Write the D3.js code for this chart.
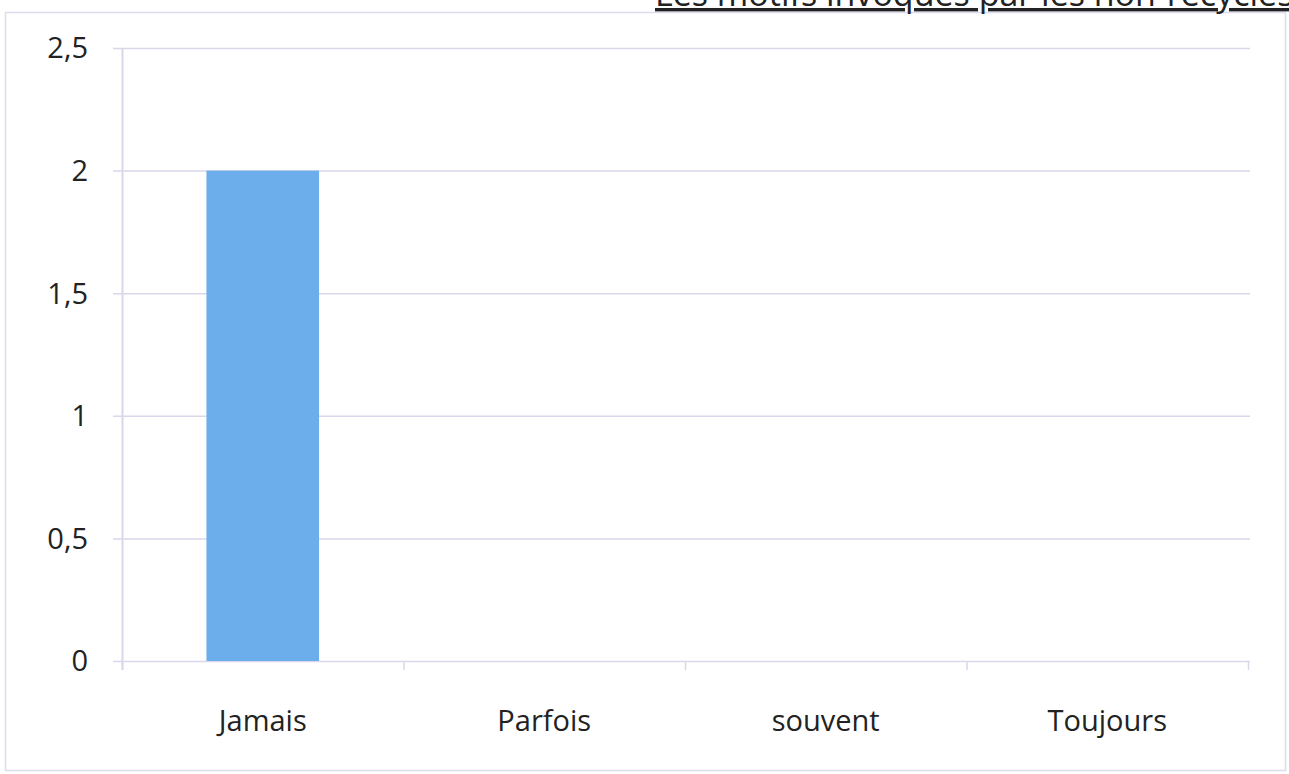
<!DOCTYPE html>
<html><head><meta charset="utf-8">
<script src="https://cdn.jsdelivr.net/npm/d3@7"></script>
<style>html,body{margin:0;padding:0;background:#fff;overflow:hidden}</style>
</head><body>
<svg id="c" width="1289" height="774"></svg>
<script>
const title = "Les motifs invoqués par les non-recyclés";
const categories = ["Jamais", "Parfois", "souvent", "Toujours"];
const values = [2, 0, 0, 0];
const yTicks = [0, 0.5, 1, 1.5, 2, 2.5];
const yTickLabels = ["0", "0,5", "1", "1,5", "2", "2,5"];

const svg = d3.select("#c");
const font = "'Open Sans', sans-serif";
const gridCol = "#d8d8ea";

// outer frame
svg.append("rect").attr("x", 5.5).attr("y", 12.5).attr("width", 1280).attr("height", 758)
  .attr("fill", "none").attr("stroke", "#dcdcee").attr("stroke-width", 1.5);

// title (cut off at top, as in the reference)
svg.append("text").attr("x", 655).attr("y", 6)
  .attr("font-family", font).attr("font-size", 34).attr("fill", "#222")
  .attr("text-decoration", "underline")
  .text(title);

const x = d3.scaleBand().domain(categories).range([122, 1248]).paddingInner(0.6).paddingOuter(0.3);
const xb = d3.scaleBand().domain(categories).range([122, 1248]);
const y = d3.scaleLinear().domain([0, 2.5]).range([661, 48]);

// gridlines
svg.append("g").selectAll("line").data(yTicks).join("line")
  .attr("x1", 113).attr("x2", 1250)
  .attr("y1", d => y(d) + 0.5).attr("y2", d => y(d) + 0.5)
  .attr("stroke", gridCol).attr("stroke-width", 1.5);

// y axis line
svg.append("line").attr("x1", 122.5).attr("x2", 122.5).attr("y1", y(2.5)).attr("y2", 670)
  .attr("stroke", gridCol).attr("stroke-width", 2);

// x ticks at band boundaries
const bounds = categories.map(c => xb(c)).concat([xb.range()[1]]);
svg.append("g").selectAll("line").data(bounds).join("line")
  .attr("x1", d => d + 0.5).attr("x2", d => d + 0.5)
  .attr("y1", y(0)).attr("y2", 670)
  .attr("stroke", gridCol).attr("stroke-width", 1.5);

// bars
svg.append("g").selectAll("rect").data(values).join("rect")
  .attr("x", (d, i) => x(categories[i]))
  .attr("width", x.bandwidth())
  .attr("y", d => y(d))
  .attr("height", d => y(0) - y(d))
  .attr("fill", "#6caeec");

// y labels
svg.append("g").selectAll("text").data(yTicks).join("text")
  .attr("x", 88).attr("y", d => y(d)).attr("dy", "0.36em")
  .attr("text-anchor", "end").attr("font-family", font).attr("font-size", 29).attr("fill", "#222")
  .text((d, i) => yTickLabels[i]);

// x labels
svg.append("g").selectAll("text").data(categories).join("text")
  .attr("x", d => xb(d) + xb.bandwidth() / 2).attr("y", 731)
  .attr("text-anchor", "middle").attr("font-family", font).attr("font-size", 29).attr("fill", "#222")
  .text(d => d);
</script>
</body></html>
